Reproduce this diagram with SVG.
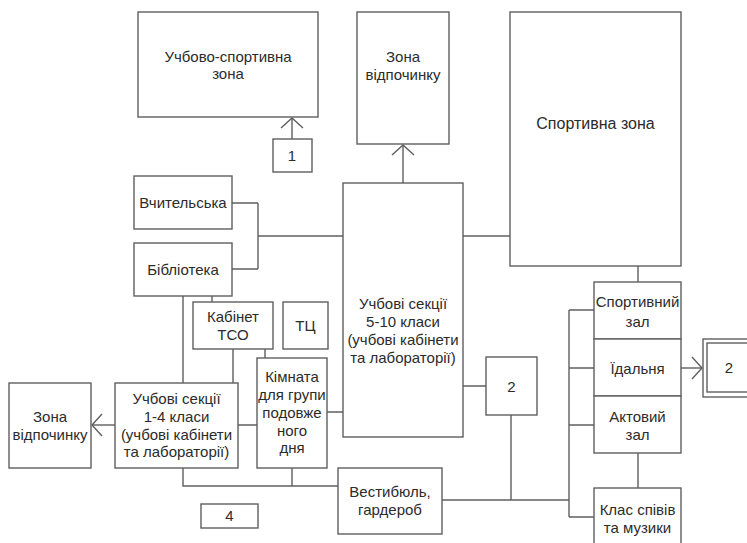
<svg xmlns="http://www.w3.org/2000/svg" width="747" height="543" viewBox="0 0 747 543">
<style>
.b{fill:#fff;stroke:#5f5f5f;stroke-width:1.4}
.t{font-family:"Liberation Sans",Arial,sans-serif;font-size:15px;fill:#2b2b2b;text-anchor:middle}
.c{fill:none;stroke:#5f5f5f;stroke-width:1.4}
</style>
<defs>
<marker id="ar" markerUnits="userSpaceOnUse" viewBox="0 0 12 24" markerWidth="12" markerHeight="24" refX="11" refY="12" orient="auto">
<path d="M1,1 L11,12 L1,23" fill="none" stroke="#5f5f5f" stroke-width="1.4"/>
</marker>
</defs>
<rect width="747" height="543" fill="#fff"/>
<g id="connectors">
<path class="c" d="M292,139 V118" marker-end="url(#ar)"/>
<path class="c" d="M403,183 V145" marker-end="url(#ar)"/>
<path class="c" d="M463,236 H510"/>
<path class="c" d="M343,236 H258 M258,203 V269 M232,203 H258 M232,269 H258"/>
<path class="c" d="M183,296 V383 M212,296 V302 M233,349 V383 M265,349 V358"/>
<path class="c" d="M115,425 H92" marker-end="url(#ar)"/>
<path class="c" d="M238,425 H257 M327,412 H343"/>
<path class="c" d="M183,468 V486 H338 M292,468 V486"/>
<path class="c" d="M463,386 H486 M511,415 V500 M442,500 H569 M569,310 V517 M569,310 H594 M569,368 H594 M569,425 H594 M569,517 H594"/>
<path class="c" d="M638,266 V282 M638,453 V488"/>
<path class="c" d="M681,368 H702" marker-end="url(#ar)"/>
</g>
<g id="n_usz"><rect class="b" x="138" y="12" width="180" height="105"/><text class="t" x="228" y="62">Учбово-спортивна</text><text class="t" x="228" y="79">зона</text></g>
<g id="n_1"><rect class="b" x="273" y="139" width="39" height="33"/><text class="t" x="292" y="161">1</text></g>
<g id="n_zv_top"><rect class="b" x="357" y="12" width="92" height="132"/><text class="t" x="403" y="62">Зона</text><text class="t" x="403" y="80">відпочинку</text></g>
<g id="n_sport"><rect class="b" x="510" y="12" width="171" height="254"/><text class="t" x="595.5" y="129" style="font-size:16px">Спортивна зона</text></g>
<g id="n_teach"><rect class="b" x="134" y="176" width="98" height="53"/><text class="t" x="183" y="208">Вчительська</text></g>
<g id="n_lib"><rect class="b" x="134" y="243" width="98" height="53"/><text class="t" x="183" y="275">Бібліотека</text></g>
<g id="n_tso"><rect class="b" x="193" y="302" width="80" height="47"/><text class="t" x="233" y="322">Кабінет</text><text class="t" x="233" y="340">ТСО</text></g>
<g id="n_tc"><rect class="b" x="283" y="302" width="45" height="47"/><text class="t" x="305.5" y="331">ТЦ</text></g>
<g id="n_510"><rect class="b" x="343" y="183" width="120" height="254"/><text class="t" x="403" y="309">Учбові секції</text><text class="t" x="403" y="327">5-10 класи</text><text class="t" x="403" y="345">(учбові кабінети</text><text class="t" x="403" y="363">та лабораторії)</text></g>
<g id="n_2mid"><rect class="b" x="486" y="357" width="51" height="58"/><text class="t" x="511.5" y="392">2</text></g>
<g id="n_zv_left"><rect class="b" x="9" y="383" width="82" height="85"/><text class="t" x="50" y="422">Зона</text><text class="t" x="50" y="440">відпочинку</text></g>
<g id="n_14"><rect class="b" x="115" y="383" width="123" height="85"/><text class="t" x="176.5" y="404">Учбові секції</text><text class="t" x="176.5" y="422">1-4 класи</text><text class="t" x="176.5" y="440">(учбові кабінети</text><text class="t" x="176.5" y="457">та лабораторії)</text></g>
<g id="n_room"><rect class="b" x="257" y="358" width="70" height="110"/><text class="t" x="292" y="382">Кімната</text><text class="t" x="292" y="400">для групи</text><text class="t" x="292" y="418">подовже</text><text class="t" x="292" y="436">ного</text><text class="t" x="292" y="453">дня</text></g>
<g id="n_4"><rect class="b" x="201" y="504" width="57" height="24"/><text class="t" x="229.5" y="521">4</text></g>
<g id="n_vest"><rect class="b" x="338" y="468" width="104" height="66"/><text class="t" x="390" y="497">Вестибюль,</text><text class="t" x="390" y="515">гардероб</text></g>
<g id="n_gym"><rect class="b" x="594" y="282" width="87" height="57"/><text class="t" x="637.5" y="307">Спортивний</text><text class="t" x="637.5" y="327">зал</text></g>
<g id="n_din"><rect class="b" x="594" y="339" width="87" height="57"/><text class="t" x="637.5" y="374">Їдальня</text></g>
<g id="n_hall"><rect class="b" x="594" y="396" width="87" height="57"/><text class="t" x="637.5" y="422">Актовий</text><text class="t" x="637.5" y="440">зал</text></g>
<g id="n_music"><rect class="b" x="594" y="488" width="87" height="62"/><text class="t" x="637.5" y="515">Клас співів</text><text class="t" x="637.5" y="533">та музики</text></g>
<g id="n_2right"><rect class="b" x="703" y="339" width="60" height="58"/><rect class="b" x="707" y="343" width="56" height="49"/><text class="t" x="729" y="373">2</text></g>
</svg>
